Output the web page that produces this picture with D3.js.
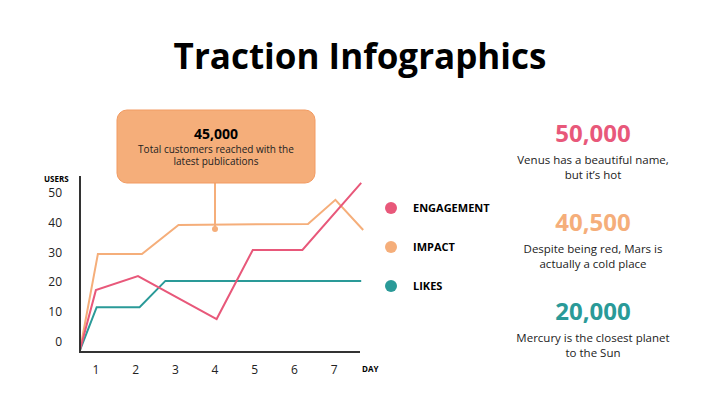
<!DOCTYPE html><html><head><script src="https://cdn.jsdelivr.net/npm/d3@7"></script>
<style>body{margin:0;background:#fff}text{font-family:"Open Sans",sans-serif}</style></head><body><svg id="c" width="720" height="406"></svg>
<script>
const yTicks=[0,10,20,30,40,50];
const xTicks=[1,2,3,4,5,6,7];
const engagement=[[0.6,-2.7],[1,17.4],[2.06,22.1],[4.04,7.7],[4.95,30.9],[6.2,30.9],[7.68,53.4]];
const impact=[[0.6,-2.7],[1.05,29.5],[2.16,29.5],[3.08,39.3],[6.34,39.6],[7.03,47.7],[7.73,37.6]];
const likes=[[0.6,-2.7],[1.02,11.7],[2.1,11.7],[2.75,20.5],[7.68,20.5]];
const legend=[["ENGAGEMENT","#e8587a"],["IMPACT","#f5ae7a"],["LIKES","#2a9a98"]];
const stats=[["50,000","Venus has a beautiful name,","but it’s hot","#e8587a"],["40,500","Despite being red, Mars is","actually a cold place","#f5ae7a"],["20,000","Mercury is the closest planet","to the Sun","#2a9a98"]];
const svg=d3.select("#c");
svg.append("text").attr("x",360).attr("y",69).attr("text-anchor","middle").attr("font-size",35).attr("font-weight",700).text("Traction Infographics");
const x=d3.scaleLinear().domain([0.6,7.7]).range([80,362]);
const y=d3.scaleLinear().domain([0,50]).range([342,193]);
yTicks.forEach(t=>svg.append("text").attr("x",62).attr("y",y(t)+4).attr("text-anchor","end").attr("font-size",12).attr("fill","#222").text(t));
xTicks.forEach(t=>svg.append("text").attr("x",x(t)).attr("y",374).attr("text-anchor","middle").attr("font-size",12).attr("fill","#222").text(t));
svg.append("text").attr("x",44).attr("y",182).attr("font-size",8).attr("font-weight",700).text("USERS");
svg.append("text").attr("x",362).attr("y",372).attr("font-size",8).attr("font-weight",700).text("DAY");
const line=d3.line().x(d=>x(d[0])).y(d=>y(d[1]));
[[impact,"#f5ae7a"],[likes,"#2a9a98"],[engagement,"#e8587a"]].forEach(([d,c])=>svg.append("path").attr("d",line(d)).attr("fill","none").attr("stroke",c).attr("stroke-width",2));
svg.append("line").attr("x1",80).attr("x2",80).attr("y1",176).attr("y2",352).attr("stroke","#333").attr("stroke-width",2);
svg.append("line").attr("x1",79).attr("x2",360).attr("y1",352).attr("y2",352).attr("stroke","#333").attr("stroke-width",2);
svg.append("line").attr("x1",215).attr("x2",215).attr("y1",182).attr("y2",229).attr("stroke","#f5ae7a").attr("stroke-width",2);
svg.append("circle").attr("cx",215).attr("cy",229).attr("r",3).attr("fill","#f5ae7a");
svg.append("rect").attr("x",117).attr("y",110).attr("width",198).attr("height",73).attr("rx",10).attr("fill","#f5ae7a").attr("stroke","#f29b62").attr("stroke-width",1);
svg.append("text").attr("x",216).attr("y",139).attr("text-anchor","middle").attr("font-size",14).attr("font-weight",700).text("45,000");
svg.append("text").attr("x",216).attr("y",153).attr("text-anchor","middle").attr("font-size",10).attr("fill","#222").text("Total customers reached with the");
svg.append("text").attr("x",216).attr("y",165).attr("text-anchor","middle").attr("font-size",10).attr("fill","#222").text("latest publications");
legend.forEach(([n,c],i)=>{const yy=208+i*39;svg.append("circle").attr("cx",391).attr("cy",yy).attr("r",6).attr("fill",c);
svg.append("text").attr("x",413).attr("y",yy+4).attr("font-size",11).attr("font-weight",700).text(n);});
stats.forEach(([v,a,b,c],i)=>{const yy=142+i*89;
svg.append("text").attr("x",593).attr("y",yy).attr("text-anchor","middle").attr("font-size",24).attr("font-weight",700).attr("fill",c).text(v);
svg.append("text").attr("x",593).attr("y",yy+22).attr("text-anchor","middle").attr("font-size",11.5).attr("fill","#222").text(a);
svg.append("text").attr("x",593).attr("y",yy+37).attr("text-anchor","middle").attr("font-size",11.5).attr("fill","#222").text(b);});
</script></body></html>
